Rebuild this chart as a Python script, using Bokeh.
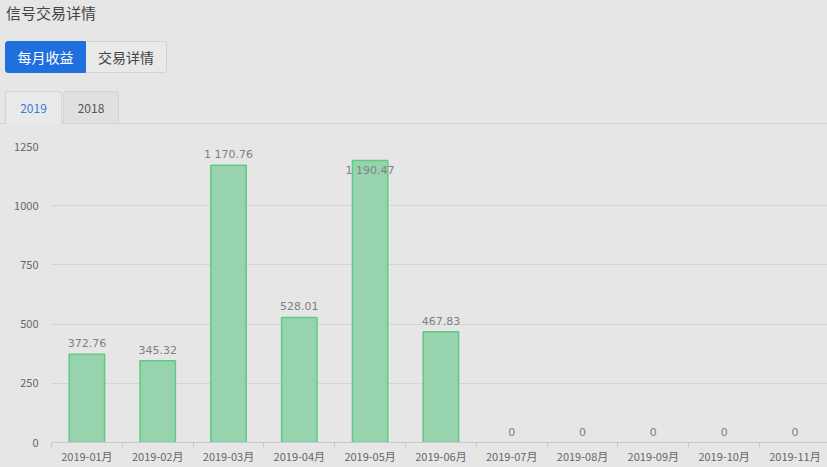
from bokeh.plotting import figure
from bokeh.models import Range1d, FixedTicker, ColumnDataSource, GlobalInlineStyleSheet, Div
from bokeh.layouts import column
from bokeh.core.properties import value
from bokeh.embed import file_html
from bokeh.resources import INLINE

# ---- data ----
title_text = "信号交易详情"
button_labels = ["每月收益", "交易详情"]
tab_labels = ["2019", "2018"]
months = ["2019-01月", "2019-02月", "2019-03月", "2019-04月", "2019-05月", "2019-06月",
          "2019-07月", "2019-08月", "2019-09月", "2019-10月", "2019-11月", "2019-12月"]
profits = [372.76, 345.32, 1170.76, 528.01, 1190.47, 467.83, 0, 0, 0, 0, 0, 0]
y_ticks = [0, 250, 500, 750, 1000, 1250]

# ---- style ----
BG = "#e6e6e6"
CJK = "Noto Sans CJK SC"
NUM = "DejaVu Sans"
W = 827
HEAD_H = 124
CHART_H = 343
TOP_B, BOT_B, LEFT_B = 22, 25, 51
FRAME_H = CHART_H - TOP_B - BOT_B
Y_MAX = y_ticks[-1]
X_END = 10.96

css = GlobalInlineStyleSheet(css="body{background:#e6e6e6;}")

# ---- header (title, buttons, tabs) ----
font = "font-family:'Noto Sans CJK SC',sans-serif;"
html = (
    f'<div style="position:relative;width:{W}px;height:{HEAD_H}px;background:{BG};{font}">'
    f'<div style="position:absolute;left:6px;top:4px;font-size:15px;line-height:18px;color:#444;">{title_text}</div>'
    f'<div style="position:absolute;left:5px;top:41px;width:81px;height:32px;box-sizing:border-box;'
    f'background:#1f6fde;border:1px solid #1f6fde;border-radius:3px 0 0 3px;color:#fff;font-size:14px;'
    f'line-height:30px;text-align:center;">{button_labels[0]}</div>'
    f'<div style="position:absolute;left:86px;top:41px;width:81px;height:32px;box-sizing:border-box;'
    f'background:#e9e9e9;border:1px solid #d2d2d2;border-left:none;border-radius:0 3px 3px 0;color:#444;'
    f'font-size:14px;line-height:30px;text-align:center;">{button_labels[1]}</div>'
    f'<div style="position:absolute;left:0;top:123px;width:{W}px;height:1px;background:#d2d2d2;"></div>'
    f'<div style="position:absolute;left:5px;top:91px;width:57px;height:33px;box-sizing:border-box;'
    f'background:#e9e9e9;border:1px solid #d4d4d4;border-bottom:none;border-radius:3px 3px 0 0;'
    f'color:#3a78d8;font-size:12px;line-height:31px;text-align:center;">{tab_labels[0]}</div>'
    f'<div style="position:absolute;left:63px;top:91px;width:56px;height:32px;box-sizing:border-box;'
    f'background:#e0e0e0;border:1px solid #d4d4d4;border-bottom:none;border-radius:3px 3px 0 0;'
    f'color:#555;font-size:12px;line-height:31px;text-align:center;">{tab_labels[1]}</div>'
    '</div>'
)
head = Div(text=html, width=W, height=HEAD_H, margin=0, stylesheets=[css])

# ---- chart ----
n = len(months)
xs = [i + 0.5 for i in range(n)]

def fmt(v):
    if v == 0:
        return "0"
    return "{:,.2f}".format(v).replace(",", " ")

px_per_unit = FRAME_H / Y_MAX
offsets = []
for v in profits:
    top_px = FRAME_H - v * px_per_unit
    # label above the bar unless it would cross the top of the plot
    offsets.append(10 if top_px - 17 < 0 else -11)

# labels of bars that fall outside the visible window are not drawn
labels = [fmt(v) if x < X_END else "" for x, v in zip(xs, profits)]

src = ColumnDataSource(dict(
    x=xs, top=profits, label=labels, off=offsets,
    line=["#5fc985" if v else None for v in profits],
))

chart = figure(width=W, height=CHART_H, x_range=Range1d(0, X_END), y_range=Range1d(0, Y_MAX),
               output_backend="svg", toolbar_location=None,
               min_border_left=LEFT_B, min_border_right=0, min_border_top=TOP_B,
               min_border_bottom=BOT_B, margin=0)
chart.background_fill_color = BG
chart.border_fill_color = BG
chart.outline_line_color = None

chart.vbar(x="x", top="top", bottom=0, width=0.5, source=src,
           fill_color="#97d4ae", line_color="line", line_width=1.5)
chart.text(x="x", y="top", text="label", y_offset="off", source=src,
           text_font=value(NUM), text_font_size="11px", text_align="center",
           text_baseline="middle", text_color="#808080")

xa = chart.xaxis[0]
xa.ticker = FixedTicker(ticks=[x for x in xs if x < X_END], minor_ticks=list(range(n + 1)))
xa.major_label_overrides = {x: m for x, m in zip(xs, months)}
xa.axis_line_color = "#c5c9d6"
xa.major_tick_line_color = None
xa.major_tick_out = 0
xa.major_tick_in = 0
xa.minor_tick_line_color = "#c5c9d6"
xa.minor_tick_out = 5
xa.minor_tick_in = 0
xa.major_label_standoff = 0
xa.major_label_text_font = CJK
xa.major_label_text_font_size = "11px"
xa.major_label_text_color = "#666666"

ya = chart.yaxis[0]
ya.ticker = FixedTicker(ticks=y_ticks)
ya.axis_line_color = None
ya.major_tick_line_color = None
ya.minor_tick_line_color = None
ya.major_tick_out = 0
ya.major_tick_in = 0
ya.major_label_standoff = 13
ya.major_label_text_font = CJK
ya.major_label_text_font_size = "11px"
ya.major_label_text_color = "#666666"

chart.xgrid.visible = False
chart.ygrid.grid_line_color = "#d5d5d5"

layout = column(head, chart, spacing=0)

open("out.html", "w").write(file_html(layout, INLINE))
